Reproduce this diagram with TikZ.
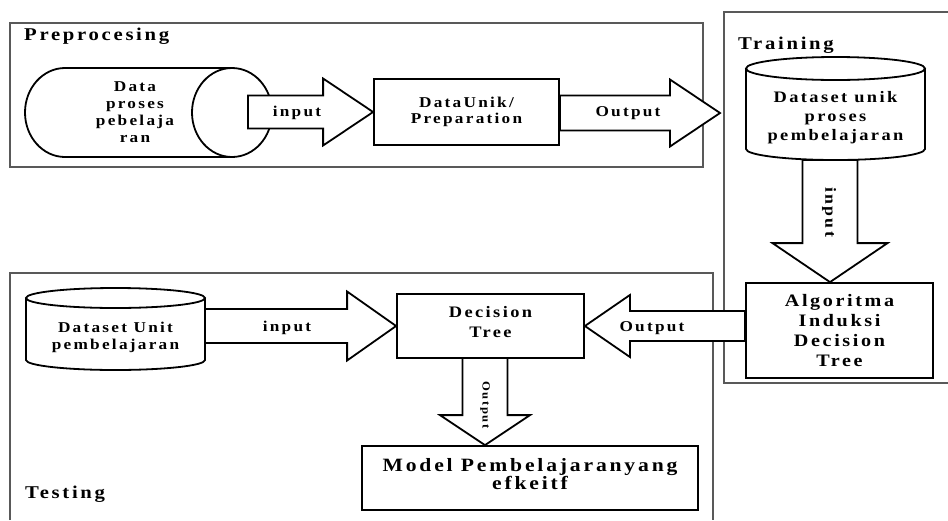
\documentclass[tikz,border=0pt]{standalone}
\usepackage{fontspec}
\setmainfont{Liberation Serif}[FakeStretch=1.15, LetterSpace=15]
\usetikzlibrary{calc}
\tikzset{
  frame/.style={draw=black!65, line width=1.4pt},
  shp/.style={draw=black, line width=1.8pt, fill=white},
  boxn/.style={shp, rectangle, inner sep=0pt, align=center, font=\bfseries\fontsize{16}{19}\selectfont},
  txt/.style={inner sep=0pt, align=center, font=\bfseries\fontsize{16}{19}\selectfont},
  ttl/.style={inner sep=0pt, anchor=west, font=\bfseries\fontsize{18}{21}\selectfont},
  lbl/.style={inner sep=0pt, font=\bfseries\fontsize{15}{18}\selectfont},
  blk/.style={draw=black, line width=1.8pt, fill=white, line join=miter}
}
% right-pointing block arrow: tail, tip, shaft half, head half, head length
\newcommand\rarrow[5]{\draw[blk] let \p1=(#1), \p2=(#2) in
  (\x1,\y2+#3) -- (\x2-#5,\y2+#3) -- (\x2-#5,\y2+#4) -- (\x2,\y2) -- (\x2-#5,\y2-#4) -- (\x2-#5,\y2-#3) -- (\x1,\y2-#3) -- cycle;}
\newcommand\larrow[5]{\draw[blk] let \p1=(#1), \p2=(#2) in
  (\x1,\y2+#3) -- (\x2+#5,\y2+#3) -- (\x2+#5,\y2+#4) -- (\x2,\y2) -- (\x2+#5,\y2-#4) -- (\x2+#5,\y2-#3) -- (\x1,\y2-#3) -- cycle;}
\newcommand\darrow[5]{\draw[blk] let \p1=(#1), \p2=(#2) in
  (\x2-#3,\y1) -- (\x2-#3,\y2+#5) -- (\x2-#4,\y2+#5) -- (\x2,\y2) -- (\x2+#4,\y2+#5) -- (\x2+#3,\y2+#5) -- (\x2+#3,\y1) -- cycle;}
\begin{document}
\begin{tikzpicture}[x=1pt,y=-1pt]
\useasboundingbox (0,0) rectangle (948,520);
\fill[white] (0,0) rectangle (948,520);

% ---------- frames ----------
\draw[frame] (10,23) rectangle (703,167);
\draw[frame] (948,12) -- (724,12) -- (724,383) -- (948,383);
\draw[frame] (10,520) -- (10,273) -- (713,273) -- (713,520);

\node[ttl] (tpre) at (24,36) {Preprocesing};
\node[ttl] (ttrain) at (738,45) {Training};
\node[ttl] (ttest) at (25,494) {Testing};

% ---------- Preprocessing ----------
% horizontal drum
\draw[shp] (232,68) -- (65,68) arc[start angle=270, end angle=90, x radius=40, y radius=44.5] -- (232,157);
\draw[shp] (232,112.5) ellipse [x radius=40, y radius=44.5];
\node[txt, font=\bfseries\fontsize{15}{17}\selectfont] (dp) at (135,112) {Data\\proses\\pebelaja\\ran};
\coordinate (dpE) at (248,113);

\node[boxn, minimum width=185pt, minimum height=66pt, font=\bfseries\fontsize{15}{15.5}\selectfont] (du) at (466.5,112) {DataUnik/\\Preparation};
\coordinate (preOut) at (720,113);

\rarrow{dpE}{du.west}{16.5pt}{33.5pt}{50pt}
\node[lbl] (l1) at (297,113) {input};
\rarrow{du.east}{preOut}{17.5pt}{33.5pt}{50pt}
\node[lbl] (l2) at (628,113) {Output};

% ---------- Training ----------
\draw[shp] (746,68.5) -- (746,149) arc[start angle=180, end angle=0, x radius=89.5, y radius=11] -- (925,68.5);
\draw[shp] (835.5,68.5) ellipse [x radius=89.5, y radius=11.5];
\node[txt] (ds) at (835.5,118) {Dataset unik\\proses\\pembelajaran};
\coordinate (dsB) at (830,160);

\node[boxn, minimum width=187pt, minimum height=95pt, font=\bfseries\fontsize{17.5}{20}\selectfont] (alg) at (839.5,330.5) {Algoritma\\Induksi\\Decision\\Tree};

\darrow{dsB}{dsB |- alg.north}{27.5pt}{57.5pt}{39pt}
\node[lbl, rotate=-90, font=\bfseries\fontsize{15.5}{17}\selectfont] (l3) at (829,212) {input};

% ---------- Testing ----------
\draw[shp] (26,298) -- (26,360) arc[start angle=180, end angle=0, x radius=89.5, y radius=10] -- (205,298);
\draw[shp] (115.5,298) ellipse [x radius=89.5, y radius=10];
\node[txt, font=\bfseries\fontsize{15}{17}\selectfont] (dsu) at (115.5,337) {Dataset Unit\\pembelajaran};
\coordinate (dsuE) at (205,326);

\node[boxn, minimum width=187pt, minimum height=64pt] (dec) at (490.5,326) {};
\node[txt, font=\bfseries\fontsize{16}{20}\selectfont] (dect) at (490.5,322) {Decision\\Tree};

\node[boxn, minimum width=336pt, minimum height=64pt] (model) at (530,478) {};
\node[txt, font=\bfseries\fontsize{18.8}{18}\selectfont] (modelt) at (530,474) {Model Pembelajaranyang\\efkeitf};

\rarrow{dsuE}{dec.west}{17pt}{34.5pt}{49pt}
\node[lbl] (l4) at (287,328) {input};

\larrow{alg.west}{dec.east}{15pt}{31pt}{45pt}
\node[lbl] (l5) at (652,328) {Output};

\coordinate (decB) at (485,358);
\darrow{decB}{decB |- model.north}{22.5pt}{45pt}{30pt}
\node[lbl, rotate=-90, font=\bfseries\fontsize{11}{12}\selectfont] (l6) at (485,405) {Output};
\end{tikzpicture}
\end{document}
